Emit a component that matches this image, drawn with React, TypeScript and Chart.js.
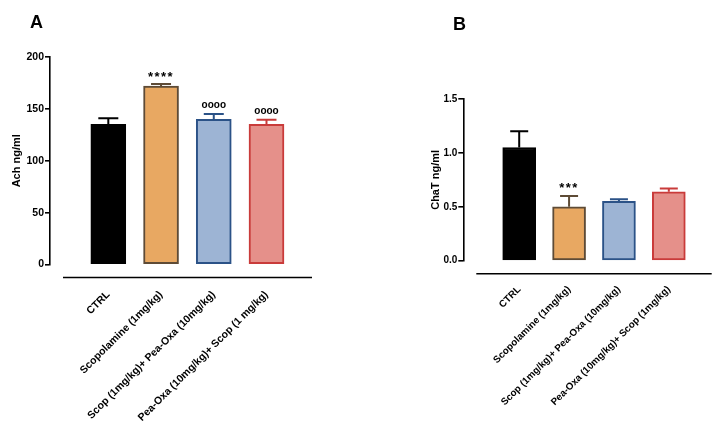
import React, { useEffect, useRef } from "react";
import { Chart, registerables } from "chart.js";

Chart.register(...registerables);
Chart.defaults.font.family = "'Liberation Sans', Arial, sans-serif";
Chart.defaults.color = "#000";

// ---------- Data ----------
const categoriesA = [
  "CTRL",
  "Scopolamine (1mg/kg)",
  "Scop (1mg/kg)+ Pea-Oxa (10mg/kg)",
  "Pea-Oxa (10mg/kg)+ Scop (1 mg/kg)",
];
const achMean = [135, 172, 140, 135];
const achSem = [6, 2, 5, 4.5];
const achMarks = ["", "****", "oooo", "oooo"];
const achTicks = [0, 50, 100, 150, 200];

const categoriesB = [
  "CTRL",
  "Scopolamine (1mg/kg)",
  "Scop (1mg/kg)+ Pea-Oxa (10mg/kg)",
  "Pea-Oxa (10mg/kg)+ Scop (1mg/kg)",
];
const chatMean = [1.05, 0.5, 0.55, 0.64];
const chatSem = [0.15, 0.1, 0.02, 0.03];
const chatMarks = ["", "***", "", ""];
const chatTicks = [0, 0.5, 1.0, 1.5];

const fillColors = ["#000000", "#E8A862", "#9DB4D4", "#E5908A"];
const borderColors = ["#000000", "#5E4B36", "#2B5287", "#C93B3A"];

type PanelProps = {
  width: number;
  height: number;
  left: number;
  categories: string[];
  means: number[];
  sems: number[];
  marks: string[];
  ticks: number[];
  decimals: number;
  yTitle: string;
  yMax: number;
  xMin: number;
  xMax: number;
  yAxisWidth: number;
  padTop: number;
  padRight: number;
  bottomPx: number;
  barThickness: number;
  capHalf: number;
  markGap: number;
  tickFont: number;
  xFont: number;
  titlePad: number;
  labelPad: number;
};

function Panel(p: PanelProps) {
  const ref = useRef<HTMLCanvasElement>(null);
  useEffect(() => {
    if (!ref.current) return;
    const points = p.means.map((v, i) => ({ x: i, y: v }));
    const axisOffset = 13;
    const errPlugin = {
      id: "errbars",
      afterDatasetsDraw(chart: any) {
        const ctx = chart.ctx;
        const ys = chart.scales.y;
        const meta = chart.getDatasetMeta(0);
        ctx.save();
        meta.data.forEach((bar: any, i: number) => {
          const x = bar.x;
          const top = ys.getPixelForValue(p.means[i]);
          const tip = ys.getPixelForValue(p.means[i] + p.sems[i]);
          ctx.strokeStyle = borderColors[i];
          ctx.lineWidth = 2;
          ctx.beginPath();
          ctx.moveTo(x, top);
          ctx.lineTo(x, tip);
          ctx.moveTo(x - p.capHalf, tip);
          ctx.lineTo(x + p.capHalf, tip);
          ctx.stroke();
          const mark = p.marks[i];
          if (mark) {
            const isStar = mark.includes("*");
            ctx.font = `bold ${isStar ? 13 : 10}px 'Liberation Sans', Arial, sans-serif`;
            (ctx as any).letterSpacing = isStar ? "1.5px" : "0px";
            ctx.fillStyle = "#000";
            ctx.textAlign = "center";
            ctx.textBaseline = "alphabetic";
            const m = ctx.measureText(mark);
            const mid = (m.actualBoundingBoxDescent - m.actualBoundingBoxAscent) / 2;
            ctx.fillText(mark, x, tip - p.markGap - mid);
          }
        });
        const ca = chart.chartArea;
        ctx.strokeStyle = "#000";
        ctx.lineWidth = 1.6;
        ctx.beginPath();
        ctx.moveTo(ca.left + axisOffset, ca.bottom + axisOffset);
        ctx.lineTo(ca.right, ca.bottom + axisOffset);
        ctx.stroke();
        ctx.restore();
      },
    };
    const chart = new Chart(ref.current, {
      type: "bar",
      data: {
        datasets: [
          {
            data: points as any,
            backgroundColor: fillColors,
            borderColor: borderColors,
            borderWidth: 2,
            borderSkipped: false,
            barThickness: p.barThickness,
          },
        ],
      },
      options: {
        animation: false,
        responsive: false,
        maintainAspectRatio: false,
        devicePixelRatio: 1,
        layout: { padding: { top: p.padTop, right: p.padRight, left: 0, bottom: 0 } },
        plugins: { legend: { display: false }, tooltip: { enabled: false } },
        scales: {
          x: {
            type: "linear",
            offset: false,
            min: p.xMin,
            max: p.xMax,
            grid: { display: false, drawTicks: false, offset: false },
            border: { display: false },
            afterBuildTicks: (s: any) => {
              s.ticks = p.categories.map((_, i) => ({ value: i }));
            },
            afterFit: (s: any) => {
              s.height = p.height - p.bottomPx;
            },
            ticks: {
              autoSkip: false,
              minRotation: 45,
              maxRotation: 45,
              padding: p.labelPad,
              color: "#000",
              font: { size: p.xFont, weight: "bold" },
              callback: (v: any) => p.categories[v] ?? "",
            },
          },
          y: {
            min: 0,
            max: p.yMax,
            afterBuildTicks: (s: any) => {
              s.ticks = p.ticks.map((v) => ({ value: v }));
            },
            afterFit: (s: any) => {
              s.width = p.yAxisWidth;
            },
            grid: {
              drawOnChartArea: false,
              drawTicks: true,
              tickLength: 5,
              color: "#000",
              lineWidth: 1.6,
            },
            border: { display: true, color: "#000", width: 1.6 },
            ticks: {
              padding: 1,
              color: "#000",
              font: { size: p.tickFont, weight: "bold" },
              callback: (v: any) => Number(v).toFixed(p.decimals),
            },
            title: {
              display: true,
              text: p.yTitle,
              color: "#000",
              font: { size: 11, weight: "bold" },
              padding: { top: p.titlePad, bottom: 0 },
            },
          },
        },
      },
      plugins: [errPlugin],
    } as any);
    return () => chart.destroy();
  }, []);
  return (
    <canvas
      ref={ref}
      width={p.width}
      height={p.height}
      style={{ position: "absolute", left: p.left, top: 0, width: p.width, height: p.height }}
    />
  );
}

const letterStyle: React.CSSProperties = {
  position: "absolute",
  fontFamily: "'Liberation Sans', Arial, sans-serif",
  fontWeight: "bold",
  fontSize: 18,
  lineHeight: 1,
  color: "#000",
};

export default function App() {
  return (
    <div
      style={{
        position: "absolute",
        left: 0,
        top: 0,
        width: 721,
        height: 427,
        background: "#fff",
        overflow: "hidden",
      }}
    >
      <Panel
        width={360}
        height={427}
        left={0}
        categories={categoriesA}
        means={achMean}
        sems={achSem}
        marks={achMarks}
        ticks={achTicks}
        decimals={0}
        yTitle="Ach ng/ml"
        yMax={200}
        xMin={-1.106}
        xMax={3.863}
        yAxisWidth={50}
        padTop={57}
        padRight={48}
        bottomPx={264.5}
        barThickness={35}
        capHalf={10}
        markGap={9}
        tickFont={10.5}
        xFont={10.5}
        titlePad={10}
        labelPad={24}
      />
      <Panel
        width={321}
        height={427}
        left={400}
        categories={categoriesB}
        means={chatMean}
        sems={chatSem}
        marks={chatMarks}
        ticks={chatTicks}
        decimals={1}
        yTitle="ChaT ng/ml"
        yMax={1.5}
        xMin={-1.121}
        xMax={3.86}
        yAxisWidth={63.3}
        padTop={99}
        padRight={9.3}
        bottomPx={260.7}
        barThickness={33}
        capHalf={9}
        markGap={11}
        tickFont={10}
        xFont={9.8}
        titlePad={29}
        labelPad={23}
      />
      <div style={{ ...letterStyle, left: 30, top: 12.7 }}>A</div>
      <div style={{ ...letterStyle, left: 453, top: 14.7 }}>B</div>
    </div>
  );
}
